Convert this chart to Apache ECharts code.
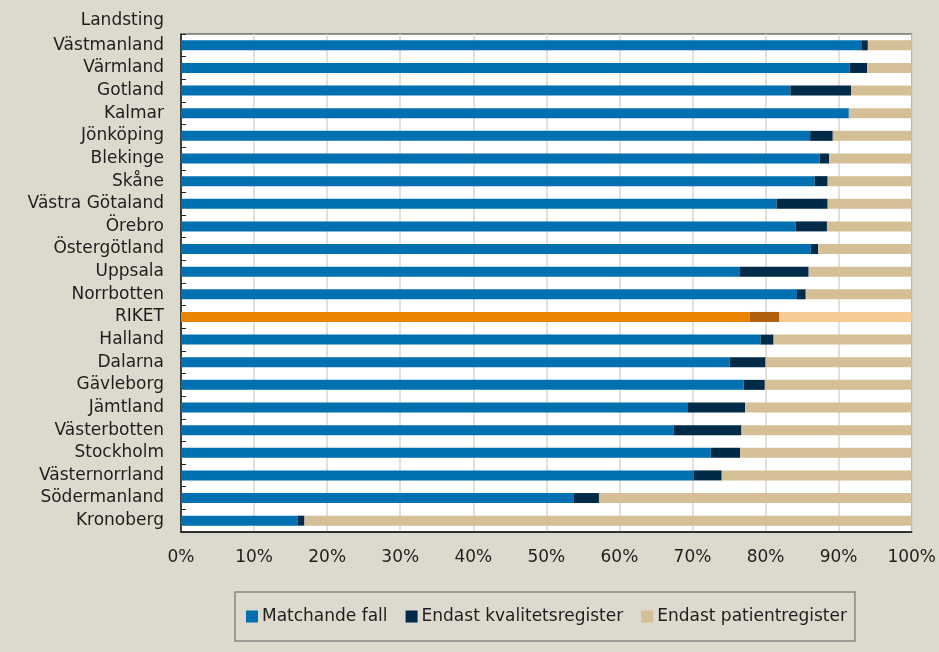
<!DOCTYPE html>
<html>
<head>
<meta charset="utf-8">
<script src="https://cdn.jsdelivr.net/npm/echarts@6/dist/echarts.min.js"></script>
<style>
  html, body { margin: 0; padding: 0; background: #dcd9cd; }
  #chart { width: 939px; height: 652px; }
</style>
</head>
<body>
<div id="chart"></div>
<script>
// Regions, top to bottom
const regions = ['Västmanland', 'Värmland', 'Gotland', 'Kalmar', 'Jönköping', 'Blekinge', 'Skåne',
  'Västra Götaland', 'Örebro', 'Östergötland', 'Uppsala', 'Norrbotten', 'RIKET', 'Halland',
  'Dalarna', 'Gävleborg', 'Jämtland', 'Västerbotten', 'Stockholm', 'Västernorrland',
  'Södermanland', 'Kronoberg'];

// Share of cases (%) found in both registers
const matched = [93.1, 91.5, 83.4, 91.4, 86.1, 87.4, 86.7, 81.5, 84.1, 86.2, 76.5, 84.3, 77.8, 79.3,
  75.1, 77.0, 69.3, 67.4, 72.5, 70.2, 53.7, 16.0];
// Only in the quality register
const qualityOnly = [0.9, 2.4, 8.3, 0.0, 3.1, 1.3, 1.8, 7.0, 4.3, 1.0, 9.4, 1.2, 4.1, 1.8,
  4.9, 2.9, 7.9, 9.3, 4.0, 3.8, 3.5, 0.9];
// Only in the patient register
const patientOnly = [6.0, 6.1, 8.3, 8.6, 10.8, 11.3, 11.5, 11.5, 11.6, 12.8, 14.1, 14.5, 18.1, 18.9,
  20.0, 20.1, 22.8, 23.3, 23.5, 26.0, 42.8, 83.1];

const xTicks = [0, 10, 20, 30, 40, 50, 60, 70, 80, 90, 100];

const seriesNames = ['Matchande fall', 'Endast kvalitetsregister', 'Endast patientregister'];
const regionColors = ['#0070b1', '#002b48', '#d4bf96'];
const nationColors = ['#e98300', '#b0600c', '#f5cc98'];
const nationLabel = 'RIKET';

const FONT = 'DejaVu Sans';
const TEXT = '#1e1e1e';

function buildSeries(values, idx) {
  return {
    name: seriesNames[idx],
    type: 'bar',
    stack: 'total',
    barWidth: 10,
    itemStyle: { color: regionColors[idx] },
    data: values.map((v, i) => regions[i] === nationLabel
      ? { value: v, itemStyle: { color: nationColors[idx] } }
      : v)
  };
}

const chart = echarts.init(document.getElementById('chart'), null, { renderer: 'canvas' });
chart.setOption({
  backgroundColor: '#dcd9cd',
  animation: false,
  textStyle: { fontFamily: FONT },
  graphic: [{
    type: 'text',
    x: 164, y: 21,
    style: { text: 'Landsting', textAlign: 'right', textVerticalAlign: 'middle',
      font: '17px "DejaVu Sans"', fill: TEXT }
  }],
  grid: {
    left: 181, right: 25, top: 34, bottom: 120,
    show: true, backgroundColor: '#ffffff', borderColor: '#333333', borderWidth: 1
  },
  legend: {
    data: seriesNames,
    left: 235, top: 592,
    icon: 'rect', itemWidth: 12, itemHeight: 12, itemGap: 18,
    padding: [16, 8, 16, 11],
    backgroundColor: '#dcd9cd', borderColor: '#858585', borderWidth: 1.5,
    textStyle: { fontFamily: FONT, fontSize: 17, color: TEXT, padding: [0, 0, 0, -1] }
  },
  xAxis: {
    type: 'value', min: 0, max: 100, interval: 10,
    axisLine: { show: true, lineStyle: { color: '#111', width: 1.5 } },
    axisTick: { show: false },
    axisLabel: { formatter: v => xTicks.includes(v) ? v + '%' : '', fontFamily: FONT,
      fontSize: 17, color: TEXT, margin: 17 },
    splitLine: { show: true, lineStyle: { color: '#d9d6ca', width: 1.5 } }
  },
  yAxis: {
    type: 'category', data: regions, inverse: true,
    axisLine: { show: true, lineStyle: { color: '#111', width: 1.5 } },
    axisTick: { show: true, inside: true, length: 5, lineStyle: { color: '#222' } },
    axisLabel: { fontFamily: FONT, fontSize: 17, color: TEXT, margin: 17 },
    splitLine: { show: false }
  },
  series: [
    buildSeries(matched, 0),
    buildSeries(qualityOnly, 1),
    buildSeries(patientOnly, 2)
  ]
});
</script>
</body>
</html>
